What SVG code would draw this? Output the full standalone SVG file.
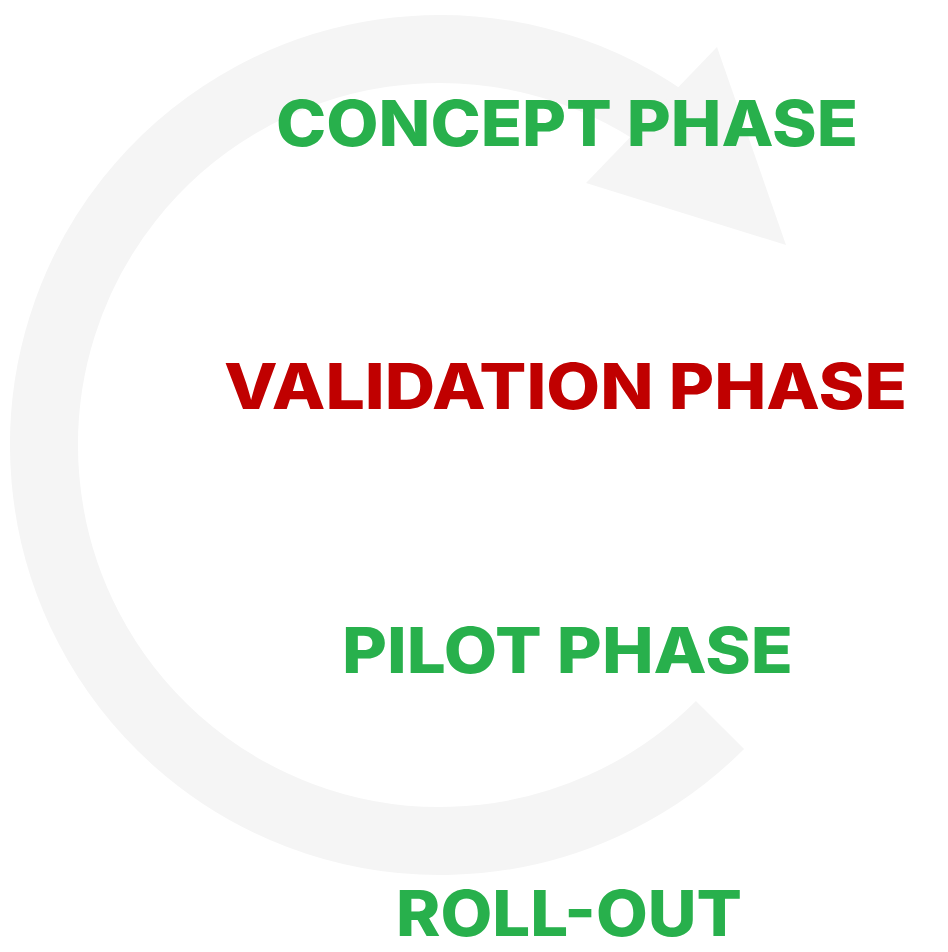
<svg xmlns="http://www.w3.org/2000/svg" width="948" height="952" viewBox="0 0 948 952">
<style>
.ring{fill:none;stroke:#f5f5f5;stroke-width:68;stroke-linecap:butt}
.head{fill:#f5f5f5}
.lbl{font-family:Inter,"Open Sans","Liberation Sans",sans-serif;font-weight:800;font-size:63px}
.g{fill:#28b04c}
.r{fill:#c00000}
</style>
<rect width="948" height="952" fill="#ffffff"/>
<g id="connectors">
<path class="ring" d="M720,725 A396,396 0 1 1 667.1,120.6"/>
<polygon class="head" points="717,47 786,245 586,183"/>
</g>
<g id="concept"><text class="lbl g" x="276" y="146" textLength="582" lengthAdjust="spacingAndGlyphs">CONCEPT PHASE</text></g>
<g id="validation"><text class="lbl r" x="224" y="409" textLength="683" lengthAdjust="spacingAndGlyphs">VALIDATION PHASE</text></g>
<g id="pilot"><text class="lbl g" x="342" y="673" textLength="451" lengthAdjust="spacingAndGlyphs">PILOT PHASE</text></g>
<g id="rollout"><text class="lbl g" x="396" y="936" textLength="346" lengthAdjust="spacingAndGlyphs">ROLL-OUT</text></g>
</svg>
